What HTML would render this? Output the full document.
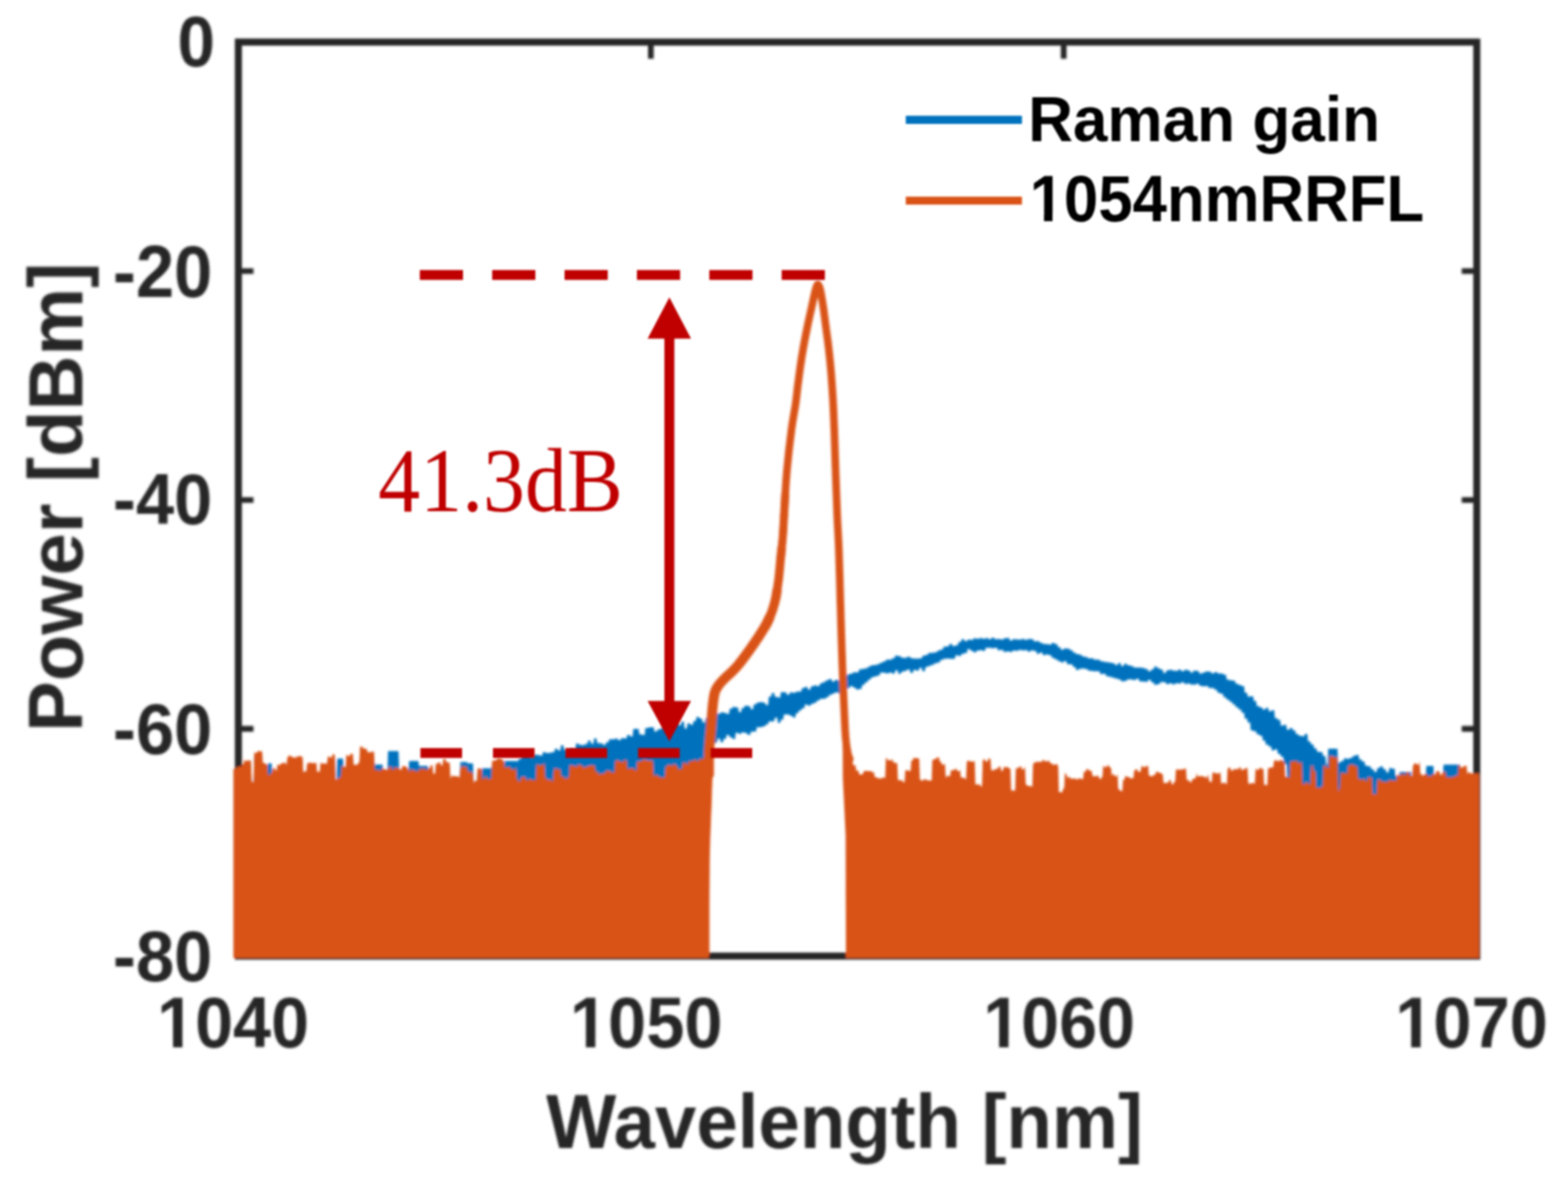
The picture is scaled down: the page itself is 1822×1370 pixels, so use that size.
<!DOCTYPE html>
<html lang="en">
<head>
<meta charset="utf-8">
<title>Raman gain and 1054nm RRFL spectrum</title>
<style>
html,body{margin:0;padding:0;background:#fff;}
body{width:1822px;height:1370px;overflow:hidden;font-family:"Liberation Sans",Arial,sans-serif;}
svg{display:block;}
text{white-space:pre;}
</style>
</head>
<body>
<svg width="1822" height="1370" viewBox="0 0 1822 1370">
<defs>
<clipPath id="nofoot" clipPathUnits="userSpaceOnUse"><path clip-rule="evenodd" d="M-20 -120H900V60H-20Z M0 -12H23.3V4H0Z M37.1 -12H57V4H37.1Z"/></clipPath>
<filter id="soft" x="-2%" y="-2%" width="104%" height="104%"><feGaussianBlur stdDeviation="1.5"/></filter>
<filter id="soft2" x="-2%" y="-2%" width="104%" height="104%"><feGaussianBlur stdDeviation="0.8"/></filter>
</defs>
<rect width="1822" height="1370" fill="#fff"/>
<g filter="url(#soft)">
<g id="axes"><rect x="277.0" y="48.9" width="1439.0" height="1062.1" fill="none" stroke="#262626" stroke-width="8.2"/><path d="M756.3 48.9v19.3M756.3 1111.0v-19.3M1236 48.9v19.3M1236 1111.0v-19.3M277.0 315h17.5M1716.0 315h-17.5M277.0 581h17.5M1716.0 581h-17.5M277.0 846.9h17.5M1716.0 846.9h-17.5" stroke="#262626" stroke-width="6.6" fill="none"/></g>
<g id="raman"><path d="M272 898.6 274.6 898.6 275.4 896 277.6 896 278.4 895.7 280.6 895.7 281.4 892.9 283.1 892.9 283.9 885.8 283.6 885.8 284.4 889.2 286.6 889.2 287.4 888.8 289.6 888.8 290.4 888.5 291.6 888.5 292.4 912.8 292.6 912.8 293.4 913.9 294.6 913.9 295.4 879.6 295.6 879.6 296.4 879.8 298.6 879.8 299.4 877.8 301.6 877.8 302.4 878.1 304.6 878.1 305.4 891.5 307.6 891.5 308.4 893 310.6 893 311.4 887.1 315.6 887.1 316.4 903.2 316.1 903.2 316.9 897.5 316.6 897.5 317.4 897.7 319.6 897.7 320.4 900.2 321.6 900.2 322.4 893 322.6 893 323.4 894.1 325.6 894.1 326.4 892 328.6 892 329.4 891.2 331.6 891.2 332.4 893.5 333.1 893.5 333.9 884.9 334.6 884.9 335.4 883.1 337.6 883.1 338.4 884.5 340.6 884.5 341.4 885.5 343.6 885.5 344.4 884.3 346.6 884.3 347.4 883.6 349.6 883.6 350.4 884.5 351.6 884.5 352.4 903 352.6 903 353.4 901.2 355.6 901.2 356.4 901.8 356.1 901.8 356.9 891.8 358.6 891.8 359.4 891.3 361.6 891.3 362.4 891.8 364.6 891.8 365.4 891.4 367.6 891.4 368.4 901.8 370.6 901.8 371.4 901.6 371.6 901.6 372.4 891.6 373.6 891.6 374.4 892.2 376.6 892.2 377.4 892.2 379.6 892.2 380.4 892.5 380.1 892.5 380.9 883.9 382.6 883.9 383.4 885.3 385.6 885.3 386.4 881.5 388.6 881.5 389.4 885.2 389.1 885.2 389.9 910.9 391.1 910.9 391.9 881.4 398.6 881.4 399.4 896.1 400.6 896.1 401.4 896.5 401.6 896.5 402.4 882.2 403.6 882.2 404.4 883.5 406.6 883.5 407.4 880.7 409.6 880.7 410.4 882.4 410.1 882.4 410.9 893.8 412.6 893.8 413.4 893.6 415.6 893.6 416.4 891.3 417.6 891.3 418.4 872 418.6 872 419.4 872.7 421.6 872.7 422.4 875 424.6 875 425.4 875.1 426.1 875.1 426.9 878.7 427.6 878.7 428.4 879.2 430.6 879.2 431.4 878.5 433.6 878.5 434.4 878.3 434.6 878.3 435.4 888.5 444.6 888.5 445.4 898.1 445.6 898.1 446.4 899 448.6 899 449.4 899.7 450.1 899.7 450.9 872.8 463.1 872.8 463.9 896.3 463.6 896.3 464.4 899.2 466.6 899.2 467.4 895.3 469.6 895.3 470.4 895.7 472.6 895.7 473.4 898.4 474.6 898.4 475.4 884.2 486.1 884.2 486.9 889.9 497.1 889.9 497.9 897.7 499.6 897.7 500.4 894.3 502.6 894.3 503.4 904 505.6 904 506.4 892.6 508.6 892.6 509.4 891 511.6 891 512.4 894.4 514.1 894.4 514.9 890.1 514.6 890.1 515.4 886.8 517.6 886.8 518.4 890.4 520.6 890.4 521.4 891.6 522.6 891.6 523.4 910.2 523.6 910.2 524.4 906.4 526.6 906.4 527.4 906.9 529.6 906.9 530.4 907.1 532.6 907.1 533.4 908.8 534.1 908.8 534.9 885.6 542.6 885.6 543.4 887.1 549.6 887.1 550.4 915.2 550.6 915.2 551.4 912.2 553.6 912.2 554.4 913.6 554.1 913.6 554.9 897.9 556.6 897.9 557.4 898.1 559.6 898.1 560.4 892.8 571.1 892.8 571.9 888.4 571.6 888.4 572.4 888.9 574.6 888.9 575.4 887.9 577.6 887.9 578.4 885.7 580.6 885.7 581.4 886.9 583.6 886.9 584.4 888.9 584.6 888.9 585.4 890.9 585.6 890.9 586.4 884.2 599.6 884.2 600.4 884.6 602.1 884.6 602.9 881.8 605.6 881.8 606.4 877.3 609.1 877.3 609.9 876 612.6 876 613.4 877.1 616.1 877.1 616.9 879.8 619.6 879.8 620.4 876.9 623.1 876.9 623.9 877.3 626.6 877.3 627.4 878.1 630.1 878.1 630.9 874 633.6 874 634.4 874.9 637.1 874.9 637.9 874.8 640.6 874.8 641.4 873.9 644.1 873.9 644.9 870.1 647.6 870.1 648.4 871.9 651.1 871.9 651.9 866 654.6 866 655.4 871 658.1 871 658.9 873.3 661.6 873.3 662.4 870.2 665.1 870.2 665.9 872 668.6 872 669.4 863.9 672.1 863.9 672.9 865.4 675.6 865.4 676.4 865.7 679.1 865.7 679.9 864.6 682.6 864.6 683.4 860.6 686.1 860.6 686.9 864.3 689.6 864.3 690.4 857.9 693.1 857.9 693.9 863.4 696.6 863.4 697.4 863.7 700.1 863.7 700.9 865.4 703.6 865.4 704.4 862.6 707.1 862.6 707.9 859.1 710.6 859.1 711.4 858.9 714.1 858.9 714.9 858.3 717.6 858.3 718.4 860.1 721.1 860.1 721.9 857.8 724.6 857.8 725.4 858.1 728.1 858.1 728.9 854.1 731.6 854.1 732.4 855.7 735.1 855.7 735.9 847 738.6 847 739.4 847 742.1 847 742.9 853.3 745.6 853.3 746.4 854.1 749.1 854.1 749.9 846.1 752.6 846.1 753.4 845.3 756.1 845.3 756.9 845 759.6 845 760.4 849.9 763.1 849.9 763.9 847.8 766.6 847.8 767.4 846.4 770.1 846.4 770.9 843.7 773.6 843.7 774.4 843.8 777.1 843.8 777.9 847.7 780.6 847.7 781.4 842.5 784.1 842.5 784.9 840 787.6 840 788.4 842.7 791.1 842.7 791.9 838.6 794.6 838.6 795.4 846.4 798.1 846.4 798.9 840.6 801.6 840.6 802.4 842.2 805.1 842.2 805.9 837.7 808.6 837.7 809.4 832.9 812.1 832.9 812.9 834.9 815.6 834.9 816.4 839.6 819.1 839.6 819.9 834.6 822.6 834.6 823.4 834.4 826.1 834.4 826.9 829.8 829.6 829.8 830.4 827.7 833.1 827.7 833.9 829.4 836.6 829.4 837.4 827.8 840.1 827.8 840.9 828.3 843.6 828.3 844.4 829.6 847.1 829.6 847.9 823.4 850.6 823.4 851.4 821.5 854.1 821.5 854.9 822.1 857.6 822.1 858.4 827.4 861.1 827.4 861.9 822.7 864.6 822.7 865.4 820.1 868.1 820.1 868.9 820.6 871.6 820.6 872.4 823.9 875.1 823.9 875.9 818.6 878.6 818.6 879.4 816.5 882.1 816.5 882.9 815.8 885.6 815.8 886.4 816.5 889.1 816.5 889.9 819.3 892.6 819.3 893.4 809.5 896.1 809.5 896.9 805.3 899.6 805.3 900.4 809.7 903.1 809.7 903.9 810.4 906.6 810.4 907.4 804.2 910.1 804.2 910.9 804.5 913.6 804.5 914.4 807.2 917.1 807.2 917.9 804.6 920.6 804.6 921.4 804.9 924.1 804.9 924.9 803.7 927.6 803.7 928.4 803.5 931.1 803.5 931.9 799.6 934.6 799.6 935.4 798.2 938.1 798.2 938.9 801.2 941.6 801.2 942.4 797.6 945.1 797.6 945.9 796.6 948.6 796.6 949.4 797.2 952.1 797.2 952.9 794.1 955.6 794.1 956.4 792.5 959.1 792.5 959.9 790.6 962.6 790.6 963.4 788.9 966.1 788.9 966.9 791.9 969.6 791.9 970.4 790.1 973.1 790.1 973.9 790.7 976.6 790.7 977.4 788.6 980.1 788.6 980.9 786.1 983.6 786.1 984.4 783.8 987.1 783.8 987.9 782.8 990.6 782.8 991.4 781.2 994.1 781.2 994.9 781.2 997.6 781.2 998.4 777.7 1001.1 777.7 1001.9 777.2 1004.6 777.2 1005.4 776.6 1008.1 776.6 1008.9 774.6 1011.6 774.6 1012.4 773.1 1015.1 773.1 1015.9 772.7 1018.6 772.7 1019.4 771.8 1022.1 771.8 1022.9 769.9 1025.6 769.9 1026.4 768.5 1029.1 768.5 1029.9 766.6 1032.6 766.6 1033.4 766.4 1036.1 766.4 1036.9 764.8 1039.6 764.8 1040.4 761.7 1043.1 761.7 1043.9 762.6 1046.6 762.6 1047.4 764.3 1050.1 764.3 1050.9 764.5 1053.6 764.5 1054.4 763.1 1057.1 763.1 1057.9 764.7 1060.6 764.7 1061.4 765.2 1064.1 765.2 1064.9 765.3 1067.6 765.3 1068.4 765.1 1071.1 765.1 1071.9 761.9 1074.6 761.9 1075.4 761 1078.1 761 1078.9 758.8 1081.6 758.8 1082.4 758.6 1085.1 758.6 1085.9 757.9 1088.6 757.9 1089.4 756 1092.1 756 1092.9 754.7 1095.6 754.7 1096.4 751.5 1099.1 751.5 1099.9 751.1 1102.6 751.1 1103.4 748.3 1106.1 748.3 1106.9 750.7 1109.6 750.7 1110.4 749.8 1113.1 749.8 1113.9 746 1116.6 746 1117.4 742.7 1120.1 742.7 1120.9 745.1 1123.6 745.1 1124.4 743.2 1127.1 743.2 1127.9 743.6 1130.6 743.6 1131.4 741.7 1134.1 741.7 1134.9 742.3 1137.6 742.3 1138.4 741.5 1141.1 741.5 1141.9 742.3 1144.6 742.3 1145.4 741.5 1148.1 741.5 1148.9 742.7 1151.6 742.7 1152.4 741 1155.1 741 1155.9 742.8 1158.6 742.8 1159.4 742.6 1162.1 742.6 1162.9 743.3 1165.6 743.3 1166.4 741.8 1169.1 741.8 1169.9 741.3 1172.6 741.3 1173.4 744.2 1176.1 744.2 1176.9 742.8 1179.6 742.8 1180.4 743.1 1183.1 743.1 1183.9 743.2 1186.6 743.2 1187.4 742.6 1190.1 742.6 1190.9 743.4 1193.6 743.4 1194.4 742.4 1197.1 742.4 1197.9 742.8 1200.6 742.8 1201.4 745.3 1204.1 745.3 1204.9 745 1207.6 745 1208.4 746.9 1211.1 746.9 1211.9 748.3 1214.6 748.3 1215.4 748.5 1218.1 748.5 1218.9 748.9 1221.6 748.9 1222.4 747.1 1225.1 747.1 1225.9 748.4 1228.6 748.4 1229.4 751.9 1232.1 751.9 1232.9 755 1235.6 755 1236.4 753.6 1239.1 753.6 1239.9 753.7 1242.6 753.7 1243.4 755.4 1246.1 755.4 1246.9 758.2 1249.6 758.2 1250.4 760 1253.1 760 1253.9 760.8 1256.6 760.8 1257.4 762.8 1260.1 762.8 1260.9 763.4 1263.6 763.4 1264.4 764.9 1267.1 764.9 1267.9 765 1270.6 765 1271.4 766.4 1274.1 766.4 1274.9 766.6 1277.6 766.6 1278.4 768.2 1281.1 768.2 1281.9 769 1284.6 769 1285.4 769.4 1288.1 769.4 1288.9 769.9 1291.6 769.9 1292.4 770.8 1295.1 770.8 1295.9 772.7 1298.6 772.7 1299.4 770.5 1302.1 770.5 1302.9 774 1305.6 774 1306.4 771.2 1309.1 771.2 1309.9 772.9 1312.6 772.9 1313.4 773.7 1316.1 773.7 1316.9 775.5 1319.6 775.5 1320.4 775.8 1323.1 775.8 1323.9 775.8 1326.6 775.8 1327.4 776.2 1330.1 776.2 1330.9 777.6 1333.6 777.6 1334.4 780.1 1337.1 780.1 1337.9 777.8 1340.6 777.8 1341.4 774.5 1344.1 774.5 1344.9 776.4 1347.6 776.4 1348.4 777.9 1351.1 777.9 1351.9 782.1 1354.6 782.1 1355.4 779 1358.1 779 1358.9 778.3 1361.6 778.3 1362.4 779.3 1365.1 779.3 1365.9 779.6 1368.6 779.6 1369.4 777.9 1372.1 777.9 1372.9 780.1 1375.6 780.1 1376.4 778.3 1379.1 778.3 1379.9 779.1 1382.6 779.1 1383.4 781.5 1386.1 781.5 1386.9 779.3 1389.6 779.3 1390.4 779.8 1393.1 779.8 1393.9 782.8 1396.6 782.8 1397.4 781.6 1400.1 781.6 1400.9 780.2 1403.6 780.2 1404.4 780.4 1407.1 780.4 1407.9 782.6 1410.6 782.6 1411.4 780.9 1414.1 780.9 1414.9 782.6 1417.6 782.6 1418.4 782.8 1421.1 782.8 1421.9 784.1 1424.6 784.1 1425.4 789.7 1428.1 789.7 1428.9 790.5 1431.6 790.5 1432.4 791 1435.1 791 1435.9 794.5 1438.6 794.5 1439.4 795.9 1442.1 795.9 1442.9 797.2 1445.6 797.2 1446.4 804.9 1449.1 804.9 1449.9 809.4 1452.6 809.4 1453.4 808.9 1456.1 808.9 1456.9 814.5 1459.6 814.5 1460.4 820.5 1463.1 820.5 1463.9 822.1 1466.6 822.1 1467.4 824.4 1470.1 824.4 1470.9 822.6 1473.6 822.6 1474.4 826.5 1477.1 826.5 1477.9 825.3 1480.6 825.3 1481.4 834.4 1484.1 834.4 1484.9 836.6 1487.6 836.6 1488.4 843.2 1491.1 843.2 1491.9 842.3 1494.6 842.3 1495.4 848 1498.1 848 1498.9 845.9 1501.6 845.9 1502.4 848.7 1505.1 848.7 1505.9 852.9 1508.6 852.9 1509.4 854.9 1512.1 854.9 1512.9 855.4 1515.6 855.4 1516.4 852.7 1519.1 852.7 1519.9 861.5 1522.6 861.5 1523.4 865.1 1526.1 865.1 1526.9 869.6 1529.6 869.6 1530.4 873.6 1533.1 873.6 1533.9 873.9 1536.6 873.9 1537.4 878.4 1540.1 878.4 1540.9 888.3 1542.6 888.3 1543.4 869.9 1554.1 869.9 1554.9 886.2 1557.6 886.2 1558.4 884.3 1561.1 884.3 1561.9 881.2 1564.6 881.2 1565.4 881.7 1568.1 881.7 1568.9 880.4 1571.6 880.4 1572.4 878.3 1575.1 878.3 1575.9 877.2 1578.6 877.2 1579.4 882.5 1582.1 882.5 1582.9 884.9 1585.6 884.9 1586.4 889.8 1589.1 889.8 1589.9 890.6 1592.6 890.6 1593.4 893.7 1596.1 893.7 1596.9 897 1599.6 897 1600.4 892.5 1603.1 892.5 1603.9 890.4 1606.6 890.4 1607.4 893.7 1610.1 893.7 1610.9 897.6 1613.6 897.6 1614.4 892.5 1617.1 892.5 1617.9 893.2 1620.6 893.2 1621.4 901.5 1622.6 901.5 1623.4 905 1624.6 905 1625.4 906.2 1625.6 906.2 1626.4 897.1 1639.6 897.1 1640.4 907 1641.1 907 1641.9 894.2 1642.6 894.2 1643.4 892 1645.6 892 1646.4 893.4 1648.6 893.4 1649.4 889.9 1649.6 889.9 1650.4 904.2 1651.6 904.2 1652.4 905.9 1654.6 905.9 1655.4 904.3 1656.6 904.3 1657.4 889.9 1665.6 889.9 1666.4 904.6 1666.6 904.6 1667.4 905.2 1668.1 905.2 1668.9 901 1669.6 901 1670.4 901.3 1672.6 901.3 1673.4 905.2 1675.6 905.2 1676.4 902 1676.6 902 1677.4 888.5 1696.6 888.5 1697.4 897 1699.6 897 1700.4 895.3 1702.6 895.3 1703.4 894.4 1704.1 894.4 1704.9 903.7 1705.6 903.7 1706.4 902.4 1708.6 902.4 1709.4 904.1 1711.6 904.1 1712.4 904.2 1714.6 904.2 1715.4 903.3 1717.6 903.3 1718.4 905.4 1718 905.4 L1718 918 1623.4 918 1622.6 918.7 1621.4 918.7 1620.6 916.4 1617.9 916.4 1617.1 919.4 1614.4 919.4 1613.6 920 1610.9 920 1610.1 922.3 1607.4 922.3 1606.6 922.7 1603.9 922.7 1603.1 917.3 1600.4 917.3 1599.6 926.4 1598.4 926.4 1597.6 927.1 1595.4 927.1 1594.6 924.9 1594.9 924.9 1594.1 918.7 1593.4 918.7 1592.6 920.3 1589.9 920.3 1589.1 915.7 1586.4 915.7 1585.6 916.3 1582.9 916.3 1582.1 913.4 1579.4 913.4 1578.6 916.8 1575.9 916.8 1575.1 923.5 1572.4 923.5 1571.6 916.7 1568.9 916.7 1568.1 916.6 1565.4 916.6 1564.6 919.1 1561.9 919.1 1561.1 912.8 1558.4 912.8 1557.6 913.3 1557.9 913.3 1557.1 920 1556.4 920 1555.6 923.3 1554.9 923.3 1554.1 915.2 1551.4 915.2 1550.6 920.5 1547.9 920.5 1547.1 921.1 1544.4 921.1 1543.6 918 1540.9 918 1540.1 920.1 1537.4 920.1 1536.6 921.8 1533.9 921.8 1533.1 922.5 1530.4 922.5 1529.6 919.3 1529.4 919.3 1528.6 914.1 1526.9 914.1 1526.1 912.4 1523.4 912.4 1522.6 915.3 1520.4 915.3 1519.6 913 1517.4 913 1516.6 915 1514.4 915 1513.6 915 1513.4 915 1512.6 908.3 1512.9 908.3 1512.1 905.1 1509.4 905.1 1508.6 898.2 1505.9 898.2 1505.1 895.3 1502.4 895.3 1501.6 889 1499.4 889 1498.6 907.5 1496.4 907.5 1495.6 906.8 1495.9 906.8 1495.1 890.7 1495.4 890.7 1494.6 887.7 1491.9 887.7 1491.1 879.3 1488.4 879.3 1487.6 875.9 1484.9 875.9 1484.1 870.7 1481.4 870.7 1480.6 872 1477.9 872 1477.1 867.4 1474.4 867.4 1473.6 865.2 1470.9 865.2 1470.1 860.4 1467.4 860.4 1466.6 855 1463.9 855 1463.1 853.2 1460.4 853.2 1459.6 849.8 1456.9 849.8 1456.1 848.7 1453.4 848.7 1452.6 839.6 1449.9 839.6 1449.1 835 1446.4 835 1445.6 828.3 1442.9 828.3 1442.1 824.4 1439.4 824.4 1438.6 821.7 1435.9 821.7 1435.1 818.5 1432.4 818.5 1431.6 815.4 1428.9 815.4 1428.1 812.9 1425.4 812.9 1424.6 810.2 1421.9 810.2 1421.1 806.3 1418.4 806.3 1417.6 805 1414.9 805 1414.1 801.6 1411.4 801.6 1410.6 799.5 1407.9 799.5 1407.1 799.4 1404.4 799.4 1403.6 797.3 1400.9 797.3 1400.1 797.5 1397.4 797.5 1396.6 797.1 1393.9 797.1 1393.1 794.5 1390.4 794.5 1389.6 795.5 1386.9 795.5 1386.1 795.4 1383.4 795.4 1382.6 794.2 1379.9 794.2 1379.1 794.7 1376.4 794.7 1375.6 792.8 1372.9 792.8 1372.1 794.2 1369.4 794.2 1368.6 794.1 1365.9 794.1 1365.1 795.3 1362.4 795.3 1361.6 793.9 1358.9 793.9 1358.1 794.9 1355.4 794.9 1354.6 792.8 1351.9 792.8 1351.1 792.4 1348.4 792.4 1347.6 795.1 1344.9 795.1 1344.1 795.7 1341.4 795.7 1340.6 792.9 1337.9 792.9 1337.1 790.1 1334.4 790.1 1333.6 792.3 1330.9 792.3 1330.1 792.1 1327.4 792.1 1326.6 791.8 1323.9 791.8 1323.1 788.8 1320.4 788.8 1319.6 790.3 1316.9 790.3 1316.1 789.6 1313.4 789.6 1312.6 789.6 1309.9 789.6 1309.1 791.3 1306.4 791.3 1305.6 791.7 1302.9 791.7 1302.1 789.5 1299.4 789.5 1298.6 788.5 1295.9 788.5 1295.1 787.5 1292.4 787.5 1291.6 786.5 1288.9 786.5 1288.1 785.8 1285.4 785.8 1284.6 782.9 1281.9 782.9 1281.1 783.2 1278.4 783.2 1277.6 779.9 1274.9 779.9 1274.1 779.9 1271.4 779.9 1270.6 779.7 1267.9 779.7 1267.1 779.2 1264.4 779.2 1263.6 777.6 1260.9 777.6 1260.1 776.7 1257.4 776.7 1256.6 777.2 1253.9 777.2 1253.1 778.6 1250.4 778.6 1249.6 774.9 1246.9 774.9 1246.1 772.1 1243.4 772.1 1242.6 771.7 1239.9 771.7 1239.1 768.3 1236.4 768.3 1235.6 769.7 1232.9 769.7 1232.1 768.2 1229.4 768.2 1228.6 766.2 1225.9 766.2 1225.1 764.4 1222.4 764.4 1221.6 761.5 1218.9 761.5 1218.1 760.6 1215.4 760.6 1214.6 761.2 1211.9 761.2 1211.1 758.3 1208.4 758.3 1207.6 759.7 1204.9 759.7 1204.1 756.4 1201.4 756.4 1200.6 755.7 1197.9 755.7 1197.1 757.3 1194.4 757.3 1193.6 755.4 1190.9 755.4 1190.1 755.7 1187.4 755.7 1186.6 755.3 1183.9 755.3 1183.1 756.3 1180.4 756.3 1179.6 756 1176.9 756 1176.1 757.6 1173.4 757.6 1172.6 757 1169.9 757 1169.1 757.5 1166.4 757.5 1165.6 755.3 1162.9 755.3 1162.1 755.4 1159.4 755.4 1158.6 752.8 1155.9 752.8 1155.1 753.3 1152.4 753.3 1151.6 752.7 1148.9 752.7 1148.1 752.7 1145.4 752.7 1144.6 756.3 1141.9 756.3 1141.1 755.5 1138.4 755.5 1137.6 755.9 1134.9 755.9 1134.1 757.9 1131.4 757.9 1130.6 756.3 1127.9 756.3 1127.1 754.2 1124.4 754.2 1123.6 758.8 1120.9 758.8 1120.1 759.8 1117.4 759.8 1116.6 762.2 1113.9 762.2 1113.1 761.5 1110.4 761.5 1109.6 765.6 1106.9 765.6 1106.1 765.4 1103.4 765.4 1102.6 765.2 1099.9 765.2 1099.1 765.5 1096.4 765.5 1095.6 766.8 1092.9 766.8 1092.1 769.8 1089.4 769.8 1088.6 770.7 1085.9 770.7 1085.1 772.4 1082.4 772.4 1081.6 773.7 1078.9 773.7 1078.1 775.1 1075.4 775.1 1074.6 780.1 1071.9 780.1 1071.1 776.1 1068.4 776.1 1067.6 779.3 1064.9 779.3 1064.1 778.5 1061.4 778.5 1060.6 782.1 1057.9 782.1 1057.1 778.1 1054.4 778.1 1053.6 779.4 1050.9 779.4 1050.1 780.4 1047.4 780.4 1046.6 782.9 1043.9 782.9 1043.1 778.9 1040.4 778.9 1039.6 782.7 1036.9 782.7 1036.1 781.6 1033.4 781.6 1032.6 782.5 1029.9 782.5 1029.1 781.8 1026.4 781.8 1025.6 781.5 1022.9 781.5 1022.1 784.9 1019.4 784.9 1018.6 786.1 1015.9 786.1 1015.1 786.9 1012.4 786.9 1011.6 789.8 1008.9 789.8 1008.1 792.7 1005.4 792.7 1004.6 795.8 1001.9 795.8 1001.1 800.6 998.4 800.6 997.6 801.2 994.9 801.2 994.1 798.9 991.4 798.9 990.6 797.2 987.9 797.2 987.1 799.8 984.4 799.8 983.6 802.1 980.9 802.1 980.1 801.5 977.4 801.5 976.6 805.5 973.9 805.5 973.1 804.4 970.4 804.4 969.6 805.9 966.9 805.9 966.1 807.4 963.4 807.4 962.6 810.2 959.9 810.2 959.1 812.1 956.4 812.1 955.6 812.1 952.9 812.1 952.1 813.9 949.4 813.9 948.6 816.4 945.9 816.4 945.1 818.1 942.4 818.1 941.6 820.1 938.9 820.1 938.1 818.8 935.4 818.8 934.6 823.1 931.9 823.1 931.1 825.5 928.4 825.5 927.6 828.8 924.9 828.8 924.1 833.7 921.4 833.7 920.6 831.8 917.9 831.8 917.1 830.2 914.4 830.2 913.6 830.2 910.9 830.2 910.1 836.2 907.4 836.2 906.6 839.9 903.9 839.9 903.1 834.1 900.4 834.1 899.6 838.2 896.9 838.2 896.1 838.2 893.4 838.2 892.6 841.7 889.9 841.7 889.1 844.1 886.4 844.1 885.6 845 882.9 845 882.1 845 879.4 845 878.6 849.9 875.9 849.9 875.1 850.3 872.4 850.3 871.6 853.9 868.9 853.9 868.1 851.7 865.4 851.7 864.6 851 861.9 851 861.1 852.8 858.4 852.8 857.6 851.4 854.9 851.4 854.1 858.8 851.4 858.8 850.6 856.7 847.9 856.7 847.1 854 844.4 854 843.6 858.6 840.9 858.6 840.1 862.5 837.4 862.5 836.6 858.2 833.9 858.2 833.1 862.9 830.4 862.9 829.6 867.7 826.9 867.7 826.1 865.5 826.4 865.5 825.6 885.4 815.9 885.4 815.1 887.3 815.4 887.3 814.6 883.5 814.9 883.5 814.1 886.3 812.4 886.3 811.6 888.4 809.4 888.4 808.6 886.7 806.4 886.7 805.6 888.5 803.4 888.5 802.6 888.6 802.4 888.6 801.6 889.1 800.4 889.1 799.6 892 797.4 892 796.6 890.2 794.4 890.2 793.6 890.4 793.4 890.4 792.6 897.6 791.4 897.6 790.6 897.7 788.4 897.7 787.6 899.4 787.9 899.4 787.1 893.7 785.4 893.7 784.6 893.2 784.9 893.2 784.1 892 782.4 892 781.6 893.7 779.4 893.7 778.6 892.6 776.4 892.6 775.6 894.6 773.4 894.6 772.6 907.3 770.4 907.3 769.6 907.7 767.4 907.7 766.6 906.2 764.4 906.2 763.6 904.4 761.4 904.4 760.6 905.5 759.4 905.5 758.6 895.6 756.9 895.6 756.1 898.3 753.4 898.3 752.6 896.4 749.9 896.4 749.1 893.7 746.4 893.7 745.6 894.1 742.9 894.1 742.1 891.5 740.4 891.5 739.6 899.2 737.4 899.2 736.6 896.7 735.9 896.7 735.1 899.3 732.4 899.3 731.6 899.9 728.9 899.9 728.1 902.3 725.4 902.3 724.6 897.5 721.9 897.5 721.1 896.8 718.4 896.8 717.6 900.9 714.9 900.9 714.1 901.9 711.4 901.9 710.6 904.2 707.9 904.2 707.1 905.2 704.4 905.2 703.6 912.5 700.9 912.5 700.1 907.9 697.4 907.9 696.6 907.2 693.9 907.2 693.1 902.4 690.4 902.4 689.6 904.8 686.9 904.8 686.1 904.1 683.4 904.1 682.6 911.3 679.9 911.3 679.1 906.4 676.4 906.4 675.6 908.4 672.9 908.4 672.1 905.1 669.4 905.1 668.6 907.8 665.9 907.8 665.1 910.5 662.4 910.5 661.6 903.6 661.9 903.6 661.1 907.3 659.4 907.3 658.6 908.9 658.9 908.9 658.1 909.4 655.4 909.4 654.6 911.1 651.9 911.1 651.1 909.7 648.4 909.7 647.6 907.2 644.9 907.2 644.1 904.3 643.4 904.3 642.6 912 641.4 912 640.6 909.9 638.4 909.9 637.6 909.9 637.9 909.9 637.1 910 634.4 910 633.6 911.9 630.9 911.9 630.1 915.1 627.4 915.1 626.6 916.4 623.9 916.4 623.1 917.3 620.4 917.3 619.6 917.5 616.9 917.5 616.1 911.9 613.4 911.9 612.6 917.7 609.9 917.7 609.1 914.8 606.4 914.8 605.6 915.5 602.9 915.5 602.1 914.5 599.4 914.5 598.6 914 595.9 914 595.1 917.2 592.4 917.2 591.6 915.2 588.9 915.2 588.1 914.2 585.4 914.2 584.6 918 272 918Z" fill="#0072BD"/></g>
<g id="rrfl"><path d="M271.2 1113.1 L271.2 893.6 L272 893.6 L274.6 893.6 L275.4 891 L277.6 891 L278.4 890.7 L280.6 890.7 L281.4 887.9 L283.1 887.9 L283.9 880.8 L283.6 880.8 L284.4 884.2 L286.6 884.2 L287.4 883.8 L289.6 883.8 L290.4 883.5 L291.6 883.5 L292.4 907.8 L292.6 907.8 L293.4 908.9 L294.6 908.9 L295.4 874.6 L295.6 874.6 L296.4 874.8 L298.6 874.8 L299.4 872.8 L301.6 872.8 L302.4 873.1 L304.6 873.1 L305.4 886.5 L307.6 886.5 L308.4 888 L310.6 888 L311.4 900.6 L313.6 900.6 L314.4 898.2 L316.1 898.2 L316.9 892.5 L316.6 892.5 L317.4 892.7 L319.6 892.7 L320.4 895.2 L321.6 895.2 L322.4 888 L322.6 888 L323.4 889.1 L325.6 889.1 L326.4 887 L328.6 887 L329.4 886.2 L331.6 886.2 L332.4 888.5 L333.1 888.5 L333.9 879.9 L334.6 879.9 L335.4 878.1 L337.6 878.1 L338.4 879.5 L340.6 879.5 L341.4 880.5 L343.6 880.5 L344.4 879.3 L346.6 879.3 L347.4 878.6 L349.6 878.6 L350.4 879.5 L351.6 879.5 L352.4 898 L352.6 898 L353.4 896.2 L355.6 896.2 L356.4 896.8 L356.1 896.8 L356.9 886.8 L358.6 886.8 L359.4 886.3 L361.6 886.3 L362.4 886.8 L364.6 886.8 L365.4 886.4 L367.6 886.4 L368.4 896.8 L370.6 896.8 L371.4 896.6 L371.6 896.6 L372.4 886.6 L373.6 886.6 L374.4 887.2 L376.6 887.2 L377.4 887.2 L379.6 887.2 L380.4 887.5 L380.1 887.5 L380.9 878.9 L382.6 878.9 L383.4 880.3 L385.6 880.3 L386.4 876.5 L388.6 876.5 L389.4 880.2 L389.1 880.2 L389.9 905.9 L391.6 905.9 L392.4 903.9 L394.6 903.9 L395.4 902.6 L396.1 902.6 L396.9 889.7 L397.6 889.7 L398.4 891.1 L400.6 891.1 L401.4 891.5 L401.6 891.5 L402.4 877.2 L403.6 877.2 L404.4 878.5 L406.6 878.5 L407.4 875.7 L409.6 875.7 L410.4 877.4 L410.1 877.4 L410.9 888.8 L412.6 888.8 L413.4 888.6 L415.6 888.6 L416.4 886.3 L417.6 886.3 L418.4 867 L418.6 867 L419.4 867.7 L421.6 867.7 L422.4 870 L424.6 870 L425.4 870.1 L426.1 870.1 L426.9 873.7 L427.6 873.7 L428.4 874.2 L430.6 874.2 L431.4 873.5 L433.6 873.5 L434.4 873.3 L434.6 873.3 L435.4 894.7 L436.6 894.7 L437.4 894.4 L439.6 894.4 L440.4 895.8 L442.6 895.8 L443.4 893.1 L445.6 893.1 L446.4 894 L448.6 894 L449.4 894.7 L450.1 894.7 L450.9 893.3 L451.6 893.3 L452.4 890.7 L454.6 890.7 L455.4 894.5 L457.6 894.5 L458.4 891.7 L460.6 891.7 L461.4 892.7 L463.1 892.7 L463.9 891.3 L463.6 891.3 L464.4 894.2 L466.6 894.2 L467.4 890.3 L469.6 890.3 L470.4 890.7 L472.6 890.7 L473.4 893.4 L474.6 893.4 L475.4 897.7 L475.6 897.7 L476.4 894.2 L478.6 894.2 L479.4 895.1 L481.6 895.1 L482.4 896.3 L484.6 896.3 L485.4 896.2 L486.1 896.2 L486.9 893.4 L487.6 893.4 L488.4 893.5 L490.6 893.5 L491.4 893.3 L493.6 893.3 L494.4 894.5 L496.6 894.5 L497.4 894.1 L497.1 894.1 L497.9 892.7 L499.6 892.7 L500.4 889.3 L502.6 889.3 L503.4 899 L505.6 899 L506.4 887.6 L508.6 887.6 L509.4 886 L511.6 886 L512.4 889.4 L514.1 889.4 L514.9 885.1 L514.6 885.1 L515.4 881.8 L517.6 881.8 L518.4 885.4 L520.6 885.4 L521.4 886.6 L522.6 886.6 L523.4 905.2 L523.6 905.2 L524.4 901.4 L526.6 901.4 L527.4 901.9 L529.6 901.9 L530.4 902.1 L532.6 902.1 L533.4 903.8 L534.1 903.8 L534.9 892.4 L535.6 892.4 L536.4 890.2 L538.6 890.2 L539.4 891.2 L541.6 891.2 L542.4 890.7 L542.6 890.7 L543.4 896.4 L544.6 896.4 L545.4 896.7 L547.6 896.7 L548.4 898.7 L549.6 898.7 L550.4 910.2 L550.6 910.2 L551.4 907.2 L553.6 907.2 L554.4 908.6 L554.1 908.6 L554.9 892.9 L556.6 892.9 L557.4 893.1 L559.6 893.1 L560.4 905.3 L562.6 905.3 L563.4 902.5 L565.6 902.5 L566.4 905.6 L568.6 905.6 L569.4 904.8 L571.1 904.8 L571.9 883.4 L571.6 883.4 L572.4 883.9 L574.6 883.9 L575.4 882.9 L577.6 882.9 L578.4 880.7 L580.6 880.7 L581.4 881.9 L583.6 881.9 L584.4 883.9 L585.6 883.9 L586.4 892.4 L586.6 892.4 L587.4 891.4 L589.6 891.4 L590.4 891.3 L592.6 891.3 L593.4 893.7 L595.6 893.7 L596.4 894.2 L598.6 894.2 L599.4 891.3 L599.6 891.3 L600.4 905.6 L601.6 905.6 L602.4 908.1 L604.6 908.1 L605.4 903 L607.6 903 L608.4 903 L610.6 903 L611.4 906.7 L613.6 906.7 L614.4 905.3 L616.6 905.3 L617.4 906.4 L619.6 906.4 L620.4 906.3 L622.6 906.3 L623.4 888.4 L625.6 888.4 L626.4 889.4 L628.6 889.4 L629.4 888.7 L631.6 888.7 L632.4 886.5 L632.6 886.5 L633.4 903.6 L634.6 903.6 L635.4 905.9 L637.6 905.9 L638.4 905.9 L640.6 905.9 L641.4 908 L642.6 908 L643.4 896.6 L643.6 896.6 L644.4 892.7 L646.6 892.7 L647.4 894.2 L649.6 894.2 L650.4 893.7 L651.1 893.7 L651.9 902.2 L652.6 902.2 L653.4 902.6 L655.6 902.6 L656.4 904.9 L658.6 904.9 L659.4 903.3 L661.1 903.3 L661.9 890.4 L661.6 890.4 L662.4 889.3 L664.6 889.3 L665.4 890.1 L667.6 890.1 L668.4 890.9 L670.6 890.9 L671.4 888.6 L673.6 888.6 L674.4 889.6 L676.6 889.6 L677.4 891.9 L679.6 891.9 L680.4 891 L682.6 891 L683.4 889.9 L685.6 889.9 L686.4 889.3 L688.6 889.3 L689.4 889.7 L691.1 889.7 L691.9 898.3 L691.6 898.3 L692.4 896.5 L694.6 896.5 L695.4 899.7 L697.6 899.7 L698.4 898.9 L700.6 898.9 L701.4 898.7 L702.6 898.7 L703.4 897.2 L703.6 897.2 L704.4 895.4 L706.6 895.4 L707.4 896.1 L709.6 896.1 L710.4 897.7 L712.6 897.7 L713.4 897.4 L714.1 897.4 L714.9 884.6 L715.6 884.6 L716.4 883.6 L718.6 883.6 L719.4 884.9 L721.6 884.9 L722.4 885.4 L724.6 885.4 L725.4 883.3 L727.6 883.3 L728.4 883.5 L728.1 883.5 L728.9 893.5 L730.6 893.5 L731.4 893.1 L733.6 893.1 L734.4 892.7 L736.6 892.7 L737.4 895.2 L739.6 895.2 L740.4 884.9 L742.6 884.9 L743.4 884.7 L745.6 884.7 L746.4 882.7 L748.6 882.7 L749.4 882.9 L751.6 882.9 L752.4 884.1 L754.6 884.1 L755.4 883.7 L757.6 883.7 L758.4 884.4 L758.6 884.4 L759.4 901.5 L760.6 901.5 L761.4 900.4 L763.6 900.4 L764.4 902.2 L766.6 902.2 L767.4 903.7 L769.6 903.7 L770.4 903.3 L772.6 903.3 L773.4 890.6 L775.6 890.6 L776.4 888.6 L778.6 888.6 L779.4 889.7 L781.6 889.7 L782.4 888 L784.6 888 L785.4 889.7 L787.1 889.7 L787.9 895.4 L787.6 895.4 L788.4 893.7 L790.6 893.7 L791.4 893.6 L792.6 893.6 L793.4 886.4 L793.6 886.4 L794.4 886.2 L796.6 886.2 L797.4 888 L799.6 888 L800.4 884.6 L802.6 884.6 L803.4 884.5 L805.6 884.5 L806.4 882.7 L808.6 882.7 L809.4 884.4 L811.6 884.4 L812.4 882.3 L814.1 882.3 L814.9 879.5 L814.6 879.5 L815.4 883.3 L815.1 883.3 L815.9 881.4 L826.5 881.4 L827.5 884 L827.5 905 L824.2 990 L823.7 1113.1Z M983 1113.1 L982.6 970 L979.4 905 L979.2 864 L984.5 878.8 L984.5 878.8 L987.6 878.8 L988.4 883.5 L990.6 883.5 L991.4 889.2 L994.1 889.2 L994.9 895.6 L997.6 895.6 L998.4 899.9 L999.6 899.9 L1000.4 900 L1000.6 900 L1001.4 899.7 L1002.6 899.7 L1003.4 896.8 L1003.6 896.8 L1004.4 895.8 L1006.6 895.8 L1007.4 896 L1009.6 896 L1010.4 896 L1012.6 896 L1013.4 897.5 L1015.6 897.5 L1016.4 903 L1018.6 903 L1019.4 904.3 L1021.6 904.3 L1022.4 904.4 L1024.6 904.4 L1025.4 903.5 L1027.6 903.5 L1028.4 904 L1028.6 904 L1029.4 881.1 L1030.6 881.1 L1031.4 883.2 L1033.6 883.2 L1034.4 883.5 L1036.6 883.5 L1037.4 880.3 L1037.1 880.3 L1037.9 886.1 L1039.6 886.1 L1040.4 886.8 L1042.6 886.8 L1043.4 906.6 L1045.6 906.6 L1046.4 906.7 L1048.6 906.7 L1049.4 909 L1051.1 909 L1051.9 896.2 L1051.6 896.2 L1052.4 895.1 L1054.6 895.1 L1055.4 895.8 L1057.6 895.8 L1058.4 896.5 L1058.1 896.5 L1058.9 883.7 L1060.6 883.7 L1061.4 880.8 L1063.6 880.8 L1064.4 881.1 L1066.6 881.1 L1067.4 881.4 L1068.1 881.4 L1068.9 905.7 L1069.6 905.7 L1070.4 907 L1072.6 907 L1073.4 905.5 L1075.6 905.5 L1076.4 906.5 L1078.6 906.5 L1079.4 907.1 L1081.6 907.1 L1082.4 907.1 L1082.6 907.1 L1083.4 882.9 L1084.6 882.9 L1085.4 881.9 L1087.6 881.9 L1088.4 880.3 L1090.6 880.3 L1091.4 879.3 L1091.1 879.3 L1091.9 885 L1093.6 885 L1094.4 888.5 L1096.6 888.5 L1097.4 887.7 L1098.1 887.7 L1098.9 903.4 L1099.6 903.4 L1100.4 901.5 L1102.6 901.5 L1103.4 902.1 L1104.1 902.1 L1104.9 895 L1105.6 895 L1106.4 895 L1108.6 895 L1109.4 893.5 L1111.6 893.5 L1112.4 896 L1114.6 896 L1115.4 894.6 L1115.6 894.6 L1116.4 903.2 L1117.6 903.2 L1118.4 903.8 L1120.6 903.8 L1121.4 905.2 L1122.6 905.2 L1123.4 885.2 L1123.6 885.2 L1124.4 884.1 L1126.6 884.1 L1127.4 884.9 L1129.6 884.9 L1130.4 884.8 L1132.6 884.8 L1133.4 911.4 L1135.6 911.4 L1136.4 911.4 L1138.6 911.4 L1139.4 913.7 L1141.1 913.7 L1141.9 885.2 L1141.6 885.2 L1142.4 882.6 L1144.6 882.6 L1145.4 884.9 L1147.6 884.9 L1148.4 881.6 L1150.6 881.6 L1151.4 883.7 L1151.1 883.7 L1151.9 895.2 L1153.6 895.2 L1154.4 894.4 L1156.6 894.4 L1157.4 893.3 L1159.6 893.3 L1160.4 890.8 L1162.6 890.8 L1163.4 896.3 L1164.1 896.3 L1164.9 894.9 L1165.6 894.9 L1166.4 891.3 L1168.6 891.3 L1169.4 891.5 L1171.6 891.5 L1172.4 892.9 L1174.1 892.9 L1174.9 918.6 L1174.6 918.6 L1175.4 918.5 L1177.6 918.5 L1178.4 918.8 L1179.6 918.8 L1180.4 893.1 L1180.6 893.1 L1181.4 892.4 L1183.6 892.4 L1184.4 890.8 L1186.6 890.8 L1187.4 893.9 L1189.6 893.9 L1190.4 891.6 L1191.1 891.6 L1191.9 911.6 L1192.6 911.6 L1193.4 913 L1195.6 913 L1196.4 913.5 L1198.6 913.5 L1199.4 914.3 L1199.6 914.3 L1200.4 887.2 L1201.6 887.2 L1202.4 885.4 L1204.6 885.4 L1205.4 885.2 L1207.6 885.2 L1208.4 885.3 L1210.6 885.3 L1211.4 883.2 L1213.6 883.2 L1214.4 884.7 L1216.6 884.7 L1217.4 884.3 L1219.6 884.3 L1220.4 887 L1222.6 887 L1223.4 888.7 L1225.6 888.7 L1226.4 888.1 L1228.6 888.1 L1229.4 890.6 L1229.6 890.6 L1230.4 920.5 L1231.6 920.5 L1232.4 920.4 L1234.6 920.4 L1235.4 916 L1236.6 916 L1237.4 897.5 L1237.6 897.5 L1238.4 900.1 L1239.6 900.1 L1240.4 904.4 L1240.6 904.4 L1241.4 902.9 L1243.6 902.9 L1244.4 904.9 L1246.6 904.9 L1247.4 904.4 L1249.6 904.4 L1250.4 905.4 L1252.6 905.4 L1253.4 904.6 L1255.6 904.6 L1256.4 905.2 L1258.6 905.2 L1259.4 896.7 L1261.6 896.7 L1262.4 893.8 L1264.6 893.8 L1265.4 895.5 L1267.6 895.5 L1268.4 895.9 L1268.6 895.9 L1269.4 901.7 L1270.6 901.7 L1271.4 902.1 L1273.6 902.1 L1274.4 901.5 L1276.6 901.5 L1277.4 904.9 L1279.6 904.9 L1280.4 902.5 L1281.1 902.5 L1281.9 889.7 L1282.6 889.7 L1283.4 891.6 L1285.6 891.6 L1286.4 889.5 L1288.6 889.5 L1289.4 892.1 L1291.1 892.1 L1291.9 903.5 L1291.6 903.5 L1292.4 899.8 L1294.6 899.8 L1295.4 902.1 L1297.6 902.1 L1298.4 899.6 L1298.6 899.6 L1299.4 916.7 L1300.6 916.7 L1301.4 919 L1303.6 919 L1304.4 920.5 L1304.1 920.5 L1304.9 906.3 L1306.6 906.3 L1307.4 902.1 L1309.6 902.1 L1310.4 903.1 L1312.6 903.1 L1313.4 904.5 L1315.6 904.5 L1316.4 904 L1317.1 904 L1317.9 895.4 L1318.6 895.4 L1319.4 893.9 L1321.6 893.9 L1322.4 897.1 L1324.6 897.1 L1325.4 895.7 L1325.6 895.7 L1326.4 890 L1327.6 890 L1328.4 891.6 L1330.6 891.6 L1331.4 890.3 L1333.6 890.3 L1334.4 888.4 L1334.1 888.4 L1334.9 901.3 L1336.6 901.3 L1337.4 902.1 L1339.6 902.1 L1340.4 900.3 L1342.6 900.3 L1343.4 896.7 L1345.6 896.7 L1346.4 897.9 L1348.6 897.9 L1349.4 899.3 L1351.1 899.3 L1351.9 909.3 L1351.6 909.3 L1352.4 909.8 L1354.6 909.8 L1355.4 909.5 L1357.6 909.5 L1358.4 906.6 L1360.6 906.6 L1361.4 911.2 L1363.6 911.2 L1364.4 908.3 L1365.6 908.3 L1366.4 894 L1366.6 894 L1367.4 894.2 L1369.6 894.2 L1370.4 894.2 L1372.6 894.2 L1373.4 893.9 L1375.6 893.9 L1376.4 892.9 L1378.1 892.9 L1378.9 905.8 L1378.6 905.8 L1379.4 906.6 L1381.6 906.6 L1382.4 908.8 L1384.6 908.8 L1385.4 905.3 L1387.6 905.3 L1388.4 903.9 L1389.6 903.9 L1390.4 898.2 L1390.6 898.2 L1391.4 902 L1393.6 902 L1394.4 901.8 L1396.6 901.8 L1397.4 902.3 L1399.6 902.3 L1400.4 903.6 L1402.6 903.6 L1403.4 900.4 L1404.1 900.4 L1404.9 907.5 L1405.6 907.5 L1406.4 908.7 L1408.1 908.7 L1408.9 897.3 L1408.6 897.3 L1409.4 897.7 L1411.6 897.7 L1412.4 898.7 L1414.6 898.7 L1415.4 898.4 L1417.6 898.4 L1418.4 896 L1418.1 896 L1418.9 910.2 L1420.6 910.2 L1421.4 909.5 L1423.6 909.5 L1424.4 911 L1425.6 911 L1426.4 893.8 L1426.6 893.8 L1427.4 892.1 L1429.6 892.1 L1430.4 895.6 L1432.6 895.6 L1433.4 893.7 L1435.6 893.7 L1436.4 893.7 L1438.6 893.7 L1439.4 893 L1439.6 893 L1440.4 891.6 L1441.6 891.6 L1442.4 894.8 L1444.6 894.8 L1445.4 893.2 L1447.6 893.2 L1448.4 892.2 L1449.6 892.2 L1450.4 909.4 L1450.6 909.4 L1451.4 910.7 L1453.6 910.7 L1454.4 909.8 L1456.6 909.8 L1457.4 910.7 L1458.1 910.7 L1458.9 893.5 L1459.6 893.5 L1460.4 894.5 L1462.6 894.5 L1463.4 892.4 L1465.6 892.4 L1466.4 893.4 L1468.1 893.4 L1468.9 912 L1468.6 912 L1469.4 911.9 L1471.6 911.9 L1472.4 912.8 L1472.6 912.8 L1473.4 892.8 L1474.6 892.8 L1475.4 892.1 L1477.6 892.1 L1478.4 891.4 L1479.6 891.4 L1480.4 884.3 L1480.6 884.3 L1481.4 883.4 L1483.6 883.4 L1484.4 884.6 L1486.6 884.6 L1487.4 882.9 L1489.6 882.9 L1490.4 885.1 L1492.6 885.1 L1493.4 902.8 L1495.6 902.8 L1496.4 903.5 L1498.6 903.5 L1499.4 885 L1501.6 885 L1502.4 884.6 L1504.6 884.6 L1505.4 884.5 L1507.6 884.5 L1508.4 887.1 L1510.6 887.1 L1511.4 885.4 L1512.6 885.4 L1513.4 911 L1513.6 911 L1514.4 911 L1516.6 911 L1517.4 909 L1519.6 909 L1520.4 911.3 L1522.6 911.3 L1523.4 889.7 L1525.6 889.7 L1526.4 896 L1528.6 896 L1529.4 915.3 L1531.6 915.3 L1532.4 915.6 L1534.6 915.6 L1535.4 913.8 L1537.1 913.8 L1537.9 889.5 L1537.6 889.5 L1538.4 889.9 L1540.6 889.9 L1541.4 892.1 L1543.6 892.1 L1544.4 891.1 L1544.1 891.1 L1544.9 878.2 L1546.6 878.2 L1547.4 879.1 L1549.6 879.1 L1550.4 880.2 L1552.6 880.2 L1553.4 879.4 L1554.1 879.4 L1554.9 919.3 L1555.6 919.3 L1556.4 916 L1557.1 916 L1557.9 897.4 L1558.6 897.4 L1559.4 898.6 L1561.6 898.6 L1562.4 898.4 L1564.6 898.4 L1565.4 898.7 L1565.6 898.7 L1566.4 890.2 L1567.6 890.2 L1568.4 888.6 L1570.6 888.6 L1571.4 888.7 L1573.6 888.7 L1574.4 890.4 L1576.6 890.4 L1577.4 890.6 L1577.1 890.6 L1577.9 904.8 L1579.6 904.8 L1580.4 906.3 L1582.6 906.3 L1583.4 905.2 L1585.6 905.2 L1586.4 907.5 L1588.6 907.5 L1589.4 903.2 L1591.6 903.2 L1592.4 903.8 L1594.1 903.8 L1594.9 920.9 L1594.6 920.9 L1595.4 923.1 L1597.6 923.1 L1598.4 922.4 L1599.6 922.4 L1600.4 906.7 L1600.6 906.7 L1601.4 905.8 L1603.6 905.8 L1604.4 908 L1606.6 908 L1607.4 908.5 L1609.6 908.5 L1610.4 908.7 L1612.6 908.7 L1613.4 906.5 L1615.6 906.5 L1616.4 907 L1618.6 907 L1619.4 907.3 L1621.6 907.3 L1622.4 907.1 L1622.6 907.1 L1623.4 900 L1624.6 900 L1625.4 901.2 L1627.6 901.2 L1628.4 899.3 L1630.6 899.3 L1631.4 900.4 L1633.6 900.4 L1634.4 897 L1636.6 897 L1637.4 900.9 L1639.6 900.9 L1640.4 902 L1641.1 902 L1641.9 889.2 L1642.6 889.2 L1643.4 887 L1645.6 887 L1646.4 888.4 L1648.6 888.4 L1649.4 884.9 L1649.6 884.9 L1650.4 899.2 L1651.6 899.2 L1652.4 900.9 L1654.6 900.9 L1655.4 899.3 L1657.6 899.3 L1658.4 901.8 L1660.6 901.8 L1661.4 902 L1663.6 902 L1664.4 899.6 L1666.6 899.6 L1667.4 900.2 L1668.1 900.2 L1668.9 896 L1669.6 896 L1670.4 896.3 L1672.6 896.3 L1673.4 900.2 L1675.6 900.2 L1676.4 897 L1678.6 897 L1679.4 897.2 L1679.6 897.2 L1680.4 902.9 L1681.6 902.9 L1682.4 903.2 L1684.6 903.2 L1685.4 903.2 L1687.6 903.2 L1688.4 902.5 L1690.6 902.5 L1691.4 901 L1693.6 901 L1694.4 901.9 L1694.1 901.9 L1694.9 889 L1696.6 889 L1697.4 892 L1699.6 892 L1700.4 890.3 L1702.6 890.3 L1703.4 889.4 L1704.1 889.4 L1704.9 898.7 L1705.6 898.7 L1706.4 897.4 L1708.6 897.4 L1709.4 899.1 L1711.6 899.1 L1712.4 899.2 L1714.6 899.2 L1715.4 898.3 L1717.6 898.3 L1718.4 900.4 L1718.5 900.4 L1718.8 900.4 L1718.8 1113.1Z" fill="#D95319"/><path d="M820 1108C820 1090 819.9 1029.7 820.3 1000C820.7 970.3 822.1 947 822.6 930C823.1 913 823.3 907.3 823.4 897.8C823.5 888.3 822.7 881.3 823 873C823.3 864.7 824.6 856.8 825.4 848C826.2 839.2 826.8 827.2 827.6 820C828.4 812.8 828.9 808.8 830 805C831.1 801.2 832.3 799.4 834 797C835.7 794.6 836.2 794.4 840 790.5C843.8 786.6 851.1 780.6 857 773.7C862.9 766.8 870.2 756.5 875.5 748.9C880.8 741.3 885.5 734.1 889 728C892.5 721.9 894.5 717.2 896.5 712C898.5 706.8 899.6 703.3 901 697C902.4 690.7 903.6 682.3 904.6 674.4C905.6 666.5 906.2 657.9 907 649.6C907.8 641.3 908.8 633.1 909.5 624.8C910.2 616.5 910.2 612.8 911 600C911.8 587.2 912.8 564.9 914.3 548C915.8 531.1 918.1 511.5 919.8 498.5C921.5 485.5 923.2 478.1 924.4 470C925.6 461.9 925.9 457.2 926.8 450C927.7 442.8 928.8 434.5 929.9 426.7C931 418.9 932.2 411.2 933.6 403.4C935 395.6 936.5 387.8 938.1 380C939.7 372.2 941.6 363.9 943.2 356.7C944.8 349.5 946.4 341.4 947.6 337C948.8 332.6 949.5 330.5 950.4 330.5C951.3 330.5 952.2 332.6 953.2 337C954.2 341.4 955.5 349.5 956.6 356.7C957.7 363.9 958.7 372.2 959.7 380C960.7 387.8 961.9 395.6 962.8 403.4C963.7 411.2 964.5 418.9 965.2 426.7C965.9 434.5 966.5 442.8 967 450C967.5 457.2 967.8 461.9 968.2 470C968.6 478.1 968.9 485.5 969.4 498.5C969.9 511.5 970.4 531.5 971 548C971.6 564.5 972.2 582.5 972.8 597.8C973.4 613.1 974.2 623.1 974.8 640C975.4 656.9 976 681.1 976.5 699.3C977 717.4 977.5 732.4 978 748.9C978.5 765.4 979.1 782 979.8 798.5C980.5 815 981.4 836.8 982 848C982.6 859.2 983 861.2 983.6 866C984.2 870.8 985 874.3 985.6 877C986.2 879.7 987.2 881.2 987.5 882" fill="none" stroke="#D95319" stroke-width="8.8" stroke-linejoin="round" stroke-linecap="round"/><path d="M907 649.6C907.4 645.5 908.8 633.1 909.5 624.8C910.2 616.5 910.5 608.5 911 600C911.5 591.5 912.2 578.3 912.5 574" fill="none" stroke="#D95319" stroke-width="9.3" stroke-linejoin="round" stroke-linecap="round"/><path d="M901 697C901.6 693.2 903.6 682.3 904.6 674.4C905.6 666.5 906.4 655.8 907 649.6C907.6 643.4 908.1 639.1 908.3 637" fill="none" stroke="#D95319" stroke-width="10.0" stroke-linejoin="round" stroke-linecap="round"/><path d="M889 728C890.2 725.3 894.5 717.2 896.5 712C898.5 706.8 899.9 701.3 901 697C902.1 692.7 902.7 687.8 903 686" fill="none" stroke="#D95319" stroke-width="10.8" stroke-linejoin="round" stroke-linecap="round"/><path d="M823.8 900C823.8 895.5 823.6 881.7 824 873C824.4 864.3 825.3 856.8 826 848C826.7 839.2 827.5 827.2 828.2 820C829 812.8 829.5 808.8 830.5 805C831.5 801.2 832.9 799.4 834.5 797C836.1 794.6 836.2 794.4 840 790.5C843.8 786.6 851.1 780.6 857 773.7C862.9 766.8 870.2 756.5 875.5 748.9C880.8 741.3 885.9 733.1 889 728C892.1 722.9 893.2 719.7 894 718" fill="none" stroke="#D95319" stroke-width="11.6" stroke-linejoin="round" stroke-linecap="round"/></g>
<g id="ticklabels"><text transform="translate(206.17 76.87) scale(0.7830 0.8254)" font-family="'Liberation Sans', Arial, Helvetica, sans-serif" font-weight="bold" font-size="100" fill="#262626">0</text><text transform="translate(131.31 344.85) scale(0.7985 0.8493)" font-family="'Liberation Sans', Arial, Helvetica, sans-serif" font-weight="bold" font-size="100" fill="#262626">-20</text><text transform="translate(131.31 608.56) scale(0.7985 0.8380)" font-family="'Liberation Sans', Arial, Helvetica, sans-serif" font-weight="bold" font-size="100" fill="#262626">-40</text><text transform="translate(131.31 876.46) scale(0.7985 0.8394)" font-family="'Liberation Sans', Arial, Helvetica, sans-serif" font-weight="bold" font-size="100" fill="#262626">-60</text><text transform="translate(131.31 1140.06) scale(0.7985 0.8380)" font-family="'Liberation Sans', Arial, Helvetica, sans-serif" font-weight="bold" font-size="100" fill="#262626">-80</text><text transform="translate(182.54 1216.66) scale(0.7939 0.8394)" font-family="'Liberation Sans', Arial, Helvetica, sans-serif" font-weight="bold" font-size="100" fill="#262626" clip-path="url(#nofoot)">1040</text><text transform="translate(662.22 1216.66) scale(0.7972 0.8394)" font-family="'Liberation Sans', Arial, Helvetica, sans-serif" font-weight="bold" font-size="100" fill="#262626" clip-path="url(#nofoot)">1050</text><text transform="translate(1142.44 1216.66) scale(0.7934 0.8394)" font-family="'Liberation Sans', Arial, Helvetica, sans-serif" font-weight="bold" font-size="100" fill="#262626" clip-path="url(#nofoot)">1060</text><text transform="translate(1621.21 1216.66) scale(0.7976 0.8394)" font-family="'Liberation Sans', Arial, Helvetica, sans-serif" font-weight="bold" font-size="100" fill="#262626" clip-path="url(#nofoot)">1070</text><text transform="translate(634.60 1334.30) scale(0.8648 0.8900)" font-family="'Liberation Sans', Arial, Helvetica, sans-serif" font-weight="bold" font-size="100" fill="#262626">Wavelength [nm]</text><text transform="translate(96.10 850.49) rotate(-90) scale(0.8844 0.8836)" font-family="'Liberation Sans', Arial, Helvetica, sans-serif" font-weight="bold" font-size="100" fill="#262626">Power [dBm]</text></g>
</g>
<g filter="url(#soft2)">
<g id="annot"><path d="M487.8 319.5H958.5" stroke="#C00000" stroke-width="11.5" stroke-dasharray="50.2 33.9" fill="none"/><path d="M488.5 875H874.5" stroke="#C00000" stroke-width="11.5" stroke-dasharray="48.4 35.9" fill="none"/><path d="M777.8 385V822" stroke="#C00000" stroke-width="11.6" fill="none"/><path d="M777.8 345.5L803 393.5H752.5Z M777.8 861.5L803 814.5H752.5Z" fill="#C00000"/><text transform="translate(439.45 594.00) scale(0.9751 1.0500)" font-family="'Liberation Serif', 'Times New Roman', serif" font-weight="normal" font-size="100" fill="#C00000">41.3dB</text></g>
<g id="legend"><path d="M1052.5 139.2H1187.5" stroke="#0072BD" stroke-width="9.4"/><path d="M1052.5 233.1H1187.5" stroke="#D95319" stroke-width="9.4"/><text transform="translate(1194.65 164.40) scale(0.7215 0.7449)" font-family="'Liberation Sans', Arial, Helvetica, sans-serif" font-weight="bold" font-size="100" fill="#000">Raman gain</text><text transform="translate(1196.40 257.44) scale(0.7175 0.7620)" font-family="'Liberation Sans', Arial, Helvetica, sans-serif" font-weight="bold" font-size="100" fill="#000" clip-path="url(#nofoot)">1054nmRRFL</text></g>
</g>
</svg>
</body>
</html>
